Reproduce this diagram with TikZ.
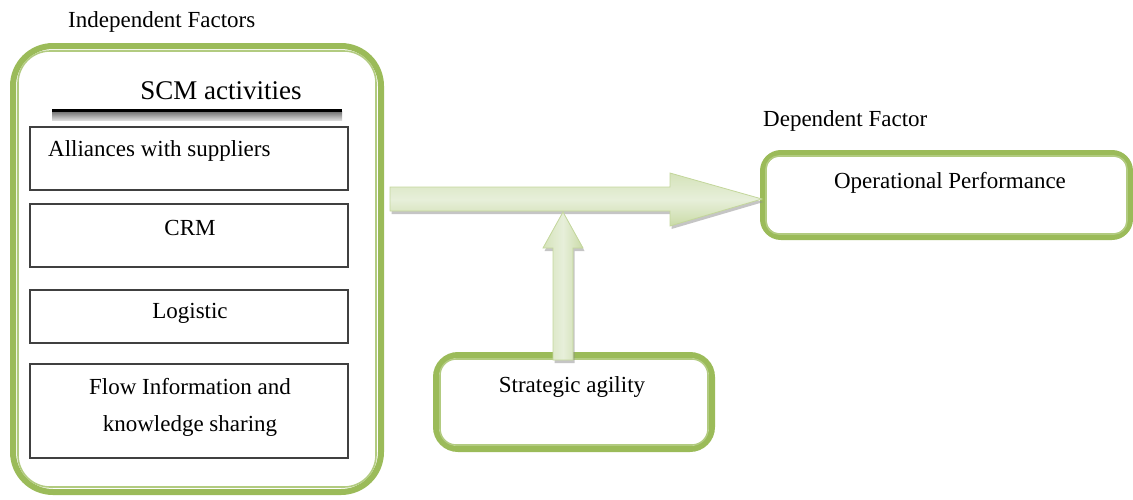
\documentclass[tikz,border=0pt]{standalone}
\usepackage{fontspec}
\setmainfont{Liberation Serif}
\usetikzlibrary{shadows,calc}
\definecolor{gOut}{HTML}{9BBB59}
\definecolor{gIn}{HTML}{B2CB80}
\definecolor{aTop}{HTML}{D5E3BA}
\definecolor{aMid}{HTML}{E7EFDA}
\definecolor{aBot}{HTML}{CADBA7}
\definecolor{aEdge}{HTML}{C3D69B}
\definecolor{boxEdge}{HTML}{404040}
\begin{document}
\begin{tikzpicture}[x=1pt,y=-1pt,
  font=\fontsize{23}{28}\selectfont,
  outerbox/.style={draw=gOut, line width=6pt, rounded corners=#1, inner sep=0pt, fill=white},
  innerline/.style={draw=gIn, line width=1.6pt},
  itembox/.style={draw=boxEdge, line width=1.2pt, inner sep=0pt, minimum width=318pt},
  txt/.style={inner sep=0pt},
  ashadow/.style={drop shadow={shadow xshift=1.5pt, shadow yshift=-3pt, fill=black!45, opacity=0.5}},
  harrow/.style={draw=aEdge, line width=0.8pt, top color=aTop, bottom color=aBot, middle color=aMid, ashadow},
  varrow/.style={draw=aEdge, line width=0.8pt, left color=aTop, right color=aBot, middle color=aMid, ashadow}
]
\useasboundingbox (0,0) rectangle (1133,499);

% Independent factors box
\node[outerbox=40pt, minimum width=368pt, minimum height=446pt] (ind) at (197,269) {};
\draw[innerline, rounded corners=32pt] ([shift={(8pt,-8pt)}]ind.north west) rectangle ([shift={(-8pt,8pt)}]ind.south east);
\node[txt, anchor=base west] (indlbl) at (68,27) {Independent Factors};
\node[txt, anchor=base, font=\fontsize{27}{32}\selectfont] (scm) at (221,99) {SCM activities};
\shade[top color=black!55, bottom color=black!12] (52,111.5) rectangle (342,120.5);
\draw[line width=2.6pt] (52,110.5) -- (342,110.5);

\node[itembox, minimum height=63pt] (b1) at (189,158.5) {};
\node[itembox, minimum height=63pt] (b2) at (189,235.5) {};
\node[itembox, minimum height=53pt] (b3) at (189,316.5) {};
\node[itembox, minimum height=94pt] (b4) at (189,411) {};
\node[txt, anchor=base west] (t1) at (48,156) {Alliances with suppliers};
\node[txt, anchor=base] (t2) at (190,235) {CRM};
\node[txt, anchor=base] (t3) at (190,318) {Logistic};
\node[txt, anchor=base] (t4a) at (190,394) {Flow Information and};
\node[txt, anchor=base] (t4b) at (190,431) {knowledge sharing};

% Dependent factor
\node[txt, anchor=base west] (deplbl) at (763,126) {Dependent Factor};
\node[outerbox=18pt, minimum width=367pt, minimum height=84pt] (op) at (946.5,195) {};
\draw[innerline, rounded corners=13pt] ([shift={(6pt,-6pt)}]op.north west) rectangle ([shift={(-6pt,6pt)}]op.south east);
\node[txt, anchor=base] (optxt) at (950,188) {Operational Performance};

% Strategic agility
\node[outerbox=22pt, minimum width=276pt, minimum height=94pt] (sa) at (574,402) {};
\draw[innerline, rounded corners=16pt] ([shift={(7pt,-7pt)}]sa.north west) rectangle ([shift={(-7pt,7pt)}]sa.south east);
\node[txt, anchor=base] (satxt) at (572,392) {Strategic agility};

% Arrows
\coordinate (hstart) at (390,199);
\coordinate (htip) at (762,199);
\coordinate (vtip) at (563,212);
\coordinate (vstart) at (563,360);
\path[harrow] ($(hstart)+(0,-12)$) -- (670,187) -- (670,173) -- (htip) -- (670,226) -- (670,211) -- ($(hstart)+(0,12)$) -- cycle;
\path[varrow] ($(vstart)+(-10,0)$) -- (553,248) -- (543,248) -- (vtip) -- (583,248) -- (573,248) -- ($(vstart)+(10,0)$) -- cycle;
\end{tikzpicture}
\end{document}
